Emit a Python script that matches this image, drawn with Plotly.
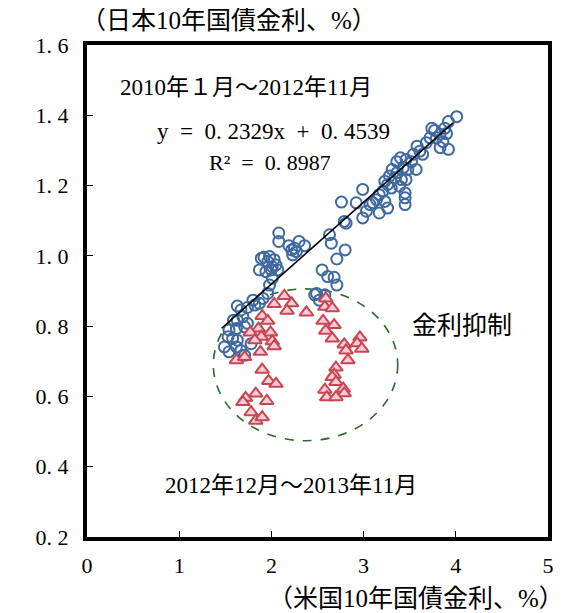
import plotly.graph_objects as go

# 2010-01 .. 2012-11 (blue circles)
us_a = [4.01,3.92,3.88,3.74,3.77,3.83,3.90,3.72,3.79,3.68,3.86,3.92,3.83,3.58,3.61,3.54,3.64,3.40,3.36,3.46,
        3.52,3.31,3.36,3.43,3.48,3.57,3.28,3.34,3.41,3.46,3.23,3.26,3.39,3.30,3.45,3.45,3.45,3.21,3.17,3.14,
        3.10,3.23,3.26,3.17,3.07,3.03,2.99,2.99,2.92,2.76,2.79,
        2.81,2.63,2.65,2.80,2.71,2.55,2.61,2.68,2.71,2.08,2.08,2.19,2.22,2.25,2.30,2.36,2.23,2.27,
        1.92,1.89,1.98,1.96,2.03,2.01,1.87,2.00,2.07,2.01,1.98,1.91,1.96,2.05,1.94,
        2.47,2.49,2.58,2.52,
        1.80,1.63,1.67,1.74,1.82,1.87,1.59,1.63,1.69,1.54,1.62,1.71,1.74,1.53,1.58,1.63,1.49,1.62,1.67,1.71,1.54,1.78]
jp_a = [1.396,1.382,1.363,1.363,1.357,1.346,1.348,1.336,1.336,1.322,1.325,1.303,1.308,1.312,1.298,1.289,1.289,1.279,1.268,1.274,
        1.268,1.246,1.236,1.251,1.246,1.246,1.227,1.222,1.217,1.217,1.212,1.203,1.198,1.193,1.179,1.165,1.146,1.184,1.174,1.160,
        1.151,1.155,1.136,1.122,1.146,1.127,1.108,1.189,1.151,1.153,1.098,
        1.093,1.060,1.036,1.017,0.991,0.960,0.941,0.939,0.917,1.065,1.041,1.029,1.017,1.022,1.041,1.029,1.003,1.012,
        0.996,0.993,0.998,0.984,0.989,0.969,0.960,0.960,0.960,0.936,0.917,0.879,0.893,0.974,0.955,
        0.889,0.893,0.889,0.874,
        0.874,0.857,0.846,0.853,0.860,0.865,0.817,0.817,0.827,0.789,0.793,0.798,0.808,0.770,0.765,0.760,0.741,0.741,0.731,0.717,0.727,0.750]

# 2012-12 .. 2013-11 (red triangles)
us_b = [2.14,2.03,2.22,2.17,2.38,1.90,1.96,1.86,1.77,1.99,1.89,1.82,2.01,2.03,1.88,1.62,1.71,1.90,1.97,2.05,
        1.83,1.72,1.69,1.95,1.78,1.83,1.90,
        2.59,2.58,2.66,2.56,2.68,2.59,2.66,2.79,2.81,2.96,2.93,2.98,2.83,2.70,2.68,2.66,2.70,2.58,2.78,2.79,2.60,2.70]
jp_b = [0.886,0.863,0.865,0.844,0.839,0.829,0.815,0.793,0.782,0.782,0.770,0.760,0.757,0.743,0.727,0.703,0.712,0.676,0.644,0.636,
        0.608,0.596,0.584,0.587,0.555,0.531,0.541,
        0.879,0.855,0.851,0.815,0.803,0.787,0.765,0.748,0.731,0.768,0.751,0.736,0.703,0.682,0.662,0.655,0.641,0.619,0.622,0.609,0.598,0.598]

slope = 0.2329
intercept = 0.4539
fit_x = [1.46, 3.97]
fit_y = [slope * v + intercept for v in fit_x]

x_ticks = [0, 1, 2, 3, 4, 5]
x_labels = ["0", "1", "2", "3", "4", "5"]
y_ticks = [0.2, 0.4, 0.6, 0.8, 1.0, 1.2, 1.4, 1.6]
y_labels = ["0.\u00a02", "0.\u00a04", "0.\u00a06", "0.\u00a08", "1.\u00a00", "1.\u00a02", "1.\u00a04", "1.\u00a06"]

FONT = "Liberation Serif, Noto Sans CJK JP, serif"
NB = "\u00a0"

fig = go.Figure()
fig.add_trace(go.Scatter(x=us_a, y=jp_a, mode="markers",
                         marker=dict(symbol="circle-open", size=11, color="#3f6aa0", line=dict(width=2, color="#3f6aa0")),
                         showlegend=False))
fig.add_trace(go.Scatter(x=us_b, y=jp_b, mode="markers",
                         marker=dict(symbol="triangle-up", size=12, color="#f9cadb", line=dict(width=2, color="#c8474f")),
                         showlegend=False))
fig.add_trace(go.Scatter(x=fit_x, y=fit_y, mode="lines", line=dict(color="black", width=1.6), showlegend=False))

fig.add_shape(type="circle", xref="x", yref="y", x0=1.37, x1=3.37, y0=0.474, y1=0.906,
              line=dict(color="#2b6a2b", width=1.6, dash="dash"), layer="below")

ann = dict(showarrow=False, font=dict(family=FONT, size=23, color="black"))
fig.add_annotation(x=1.72, y=1.48, text="2010年１月～2012年11月", **ann)
fig.add_annotation(x=0.74, y=1.354, text="y" + NB * 2 + "=" + NB * 2 + "0." + NB + "2329x" + NB * 2 + "+" + NB * 2 + "0." + NB + "4539",
                   xanchor="left", showarrow=False, font=dict(family=FONT, size=23, color="black"))
fig.add_annotation(x=1.30, y=1.266, text="R²" + NB * 2 + "=" + NB * 2 + "0." + NB + "8987",
                   xanchor="left", showarrow=False, font=dict(family=FONT, size=22, color="black"))
fig.add_annotation(x=3.5, y=0.803, text="金利抑制", xanchor="left",
                   showarrow=False, font=dict(family=FONT, size=25, color="black"))
fig.add_annotation(x=2.21, y=0.346, text="2012年12月～2013年11月", **ann)
fig.add_annotation(xref="paper", yref="paper", x=0.0, y=1.0, yshift=25, xshift=-8, xanchor="left", yanchor="middle",
                   text="（日本10年国債金利、%）", showarrow=False, font=dict(family=FONT, size=25, color="black"))
fig.add_annotation(xref="paper", yref="paper", x=1.0, y=0.0, yshift=-61, xshift=18, xanchor="right", yanchor="middle",
                   text="（米国10年国債金利、%）", showarrow=False, font=dict(family=FONT, size=25, color="black"))

fig.update_xaxes(range=[0, 5], tickvals=x_ticks, ticktext=x_labels, ticks="inside", ticklen=6, tickwidth=1,
                 tickcolor="black", showline=True, linewidth=4, linecolor="black", mirror=True,
                 showgrid=False, zeroline=False, ticklabelstandoff=6, automargin=False,
                 tickfont=dict(family=FONT, size=22, color="black"))
fig.update_yaxes(range=[0.2, 1.6], tickvals=y_ticks, ticktext=y_labels, ticks="inside", ticklen=6, tickwidth=1,
                 tickcolor="black", showline=True, linewidth=4, linecolor="black", mirror=True,
                 showgrid=False, zeroline=False, ticklabelstandoff=10, automargin=False,
                 tickfont=dict(family=FONT, size=22, color="black"))
fig.update_layout(width=568, height=613, margin=dict(l=79, r=28, t=37, b=84),
                  plot_bgcolor="white", paper_bgcolor="white")
fig.write_html("out.html")
